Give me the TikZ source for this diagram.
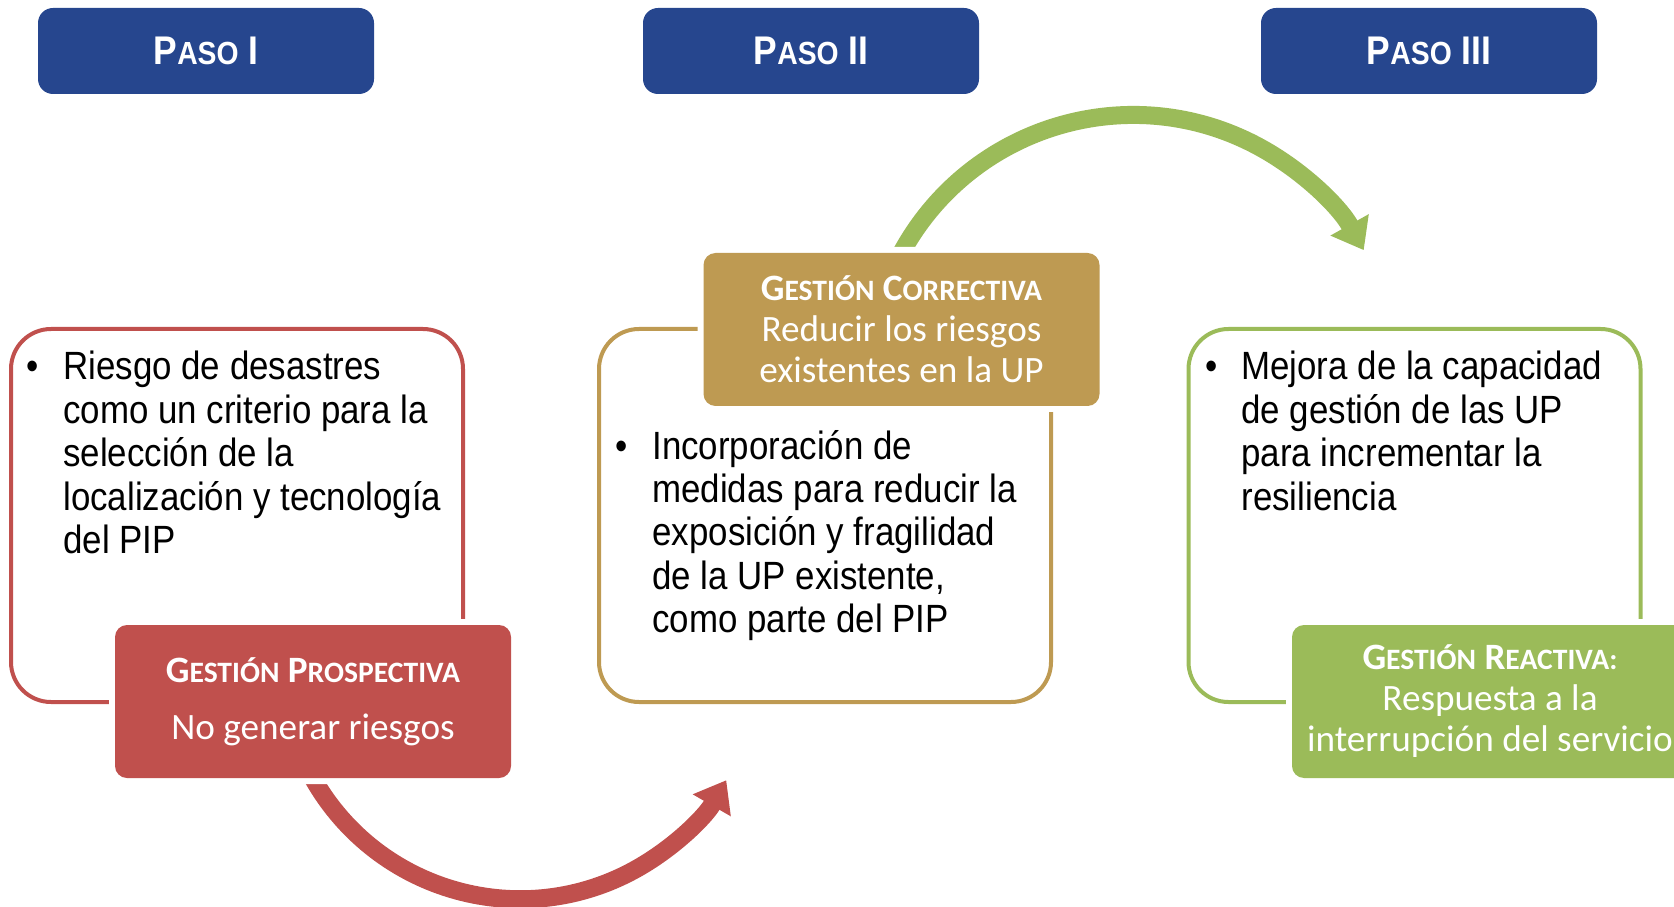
\documentclass[tikz,border=0pt]{standalone}
\usepackage{fontspec}
\usetikzlibrary{arrows.meta,backgrounds}
\newfontfamily\narrowfont[FakeStretch=0.885]{Liberation Sans}
\newfontfamily\calfont{Carlito}
\definecolor{pasoblue}{HTML}{26468E}
\definecolor{prored}{HTML}{C0504D}
\definecolor{corgold}{HTML}{BE9A52}
\definecolor{reagreen}{HTML}{9BBB59}
\newcommand\pasosc[2]{#1{\fontsize{16pt}{16pt}\selectfont #2}}
\newcommand\gestsc[2]{#1{\fontsize{14.8pt}{14.8pt}\selectfont #2}}

\begin{document}
\begin{tikzpicture}[x=0.5pt,y=0.5pt,
		pasobox/.style={fill=pasoblue,rounded corners=7.5pt,minimum width=168pt,minimum height=43pt,inner sep=0pt,text=white,font=\narrowfont\bfseries\fontsize{20pt}{20pt}\selectfont},
		outlinebox/.style={draw=#1,line width=2pt,rounded corners=20pt,minimum width=226pt,minimum height=186.5pt,inner sep=0pt},
		gestbox/.style={fill=#1,preaction={draw=white,line width=6pt},rounded corners=6pt,minimum width=198pt,minimum height=76.5pt,inner sep=0pt,text=white,align=flush center,font=\calfont\fontsize{18.6pt}{20.5pt}\selectfont},
		itemtext/.style={anchor=base west,inner sep=0pt,text width=210pt,align=flush left,font=\narrowfont\fontsize{19.7pt}{21.7pt}\selectfont},
		itembullet/.style={anchor=base west,inner sep=0pt,font=\narrowfont\fontsize{19.7pt}{21.7pt}\selectfont},
		curvearrow/.style={draw=#1,line width=9pt,-{Triangle[length=14.5pt,width=21pt]}}]
		\useasboundingbox (0,0) rectangle (1674,906);
		\path (206,855) node(paso1)[pasobox] {\pasosc{P}{ASO} I}
		(811,855) node(paso2)[pasobox] {\pasosc{P}{ASO} II}
		(1429,855) node(paso3)[pasobox] {\pasosc{P}{ASO} III};
		\path (237,390.5) node(marco1)[outlinebox=prored] {}
		(825,390.5) node(marco2)[outlinebox=corgold] {}
		(1414.5,390.5) node(marco3)[outlinebox=reagreen] {};
		\path (313,204.5) node(pro)[gestbox=prored] {{\bfseries\gestsc{G}{ESTIÓN} \gestsc{P}{ROSPECTIVA}}\\[8pt]No generar riesgos}
		(901.5,576.5) node(cor)[gestbox=corgold] {{\bfseries\gestsc{G}{ESTIÓN} \gestsc{C}{ORRECTIVA}}\\Reducir los riesgos\\existentes en la UP}
		(1490,204.5) node(rea)[gestbox=reagreen] {{\bfseries\gestsc{G}{ESTIÓN} \gestsc{R}{EACTIVA:}}\\Respuesta a la\\interrupción del servicio};
		\path (26,526) node(punto1)[itembullet] {•}
		(63,526) node(texto1)[itemtext] {Riesgo de desastres\\como un criterio para la\\selección de la\\localización y tecnología\\del PIP}
		(615,447) node(punto2)[itembullet] {•}
		(652,447) node(texto2)[itemtext] {Incorporación de\\medidas para reducir la\\exposición y fragilidad\\de la UP existente,\\como parte del PIP}
		(1205,526) node(punto3)[itembullet] {•}
		(1241,526) node(texto3)[itemtext] {Mejora de la capacidad\\de gestión de las UP\\para incrementar la\\resiliencia};
		\begin{pgfonlayer}{background}
			\draw[curvearrow=prored] (pro.south) arc[start angle=209.5,end angle=330,radius=238];
			\draw[curvearrow=reagreen] (cor.north) arc[start angle=151.4,end angle=29.2,radius=264];
		\end{pgfonlayer}
	\end{tikzpicture}
\end{document}
